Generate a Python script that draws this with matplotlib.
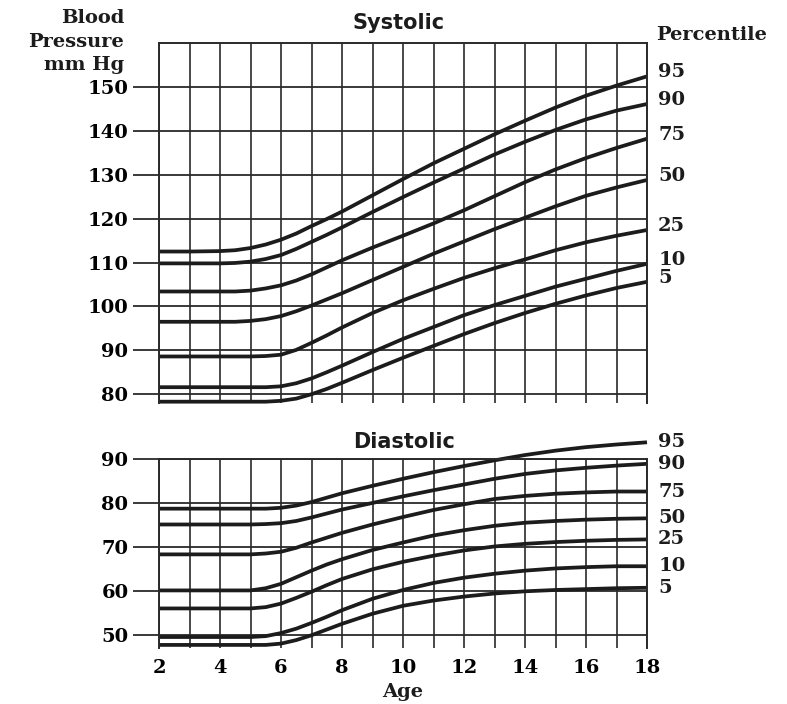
import matplotlib
matplotlib.use('Agg')
import matplotlib.pyplot as plt

# ---- data ----
ages = [2, 3, 4, 4.5, 5, 5.5, 6, 6.5, 7, 7.5, 8, 9, 10, 11, 12, 13, 14, 15, 16, 17, 18]
percentiles = ['95', '90', '75', '50', '25', '10', '5']

sys_95 = [112.5, 112.5, 112.6, 112.8, 113.3, 114.1, 115.2, 116.6, 118.3, 119.9, 121.6, 125.3, 129.0, 132.6, 135.9, 139.2, 142.3, 145.3, 148.0, 150.3, 152.4]
sys_90 = [109.8, 109.8, 109.8, 109.9, 110.2, 110.8, 111.7, 113.1, 114.7, 116.3, 118.0, 121.5, 124.9, 128.2, 131.4, 134.6, 137.5, 140.2, 142.6, 144.6, 146.1]
sys_75 = [103.4, 103.4, 103.4, 103.4, 103.6, 104.1, 104.8, 105.9, 107.3, 108.9, 110.5, 113.4, 116.1, 118.9, 121.9, 125.1, 128.3, 131.2, 133.8, 136.1, 138.2]
sys_50 = [96.5, 96.5, 96.5, 96.5, 96.7, 97.1, 97.8, 98.9, 100.2, 101.6, 103.0, 106.0, 109.0, 112.0, 114.8, 117.6, 120.2, 122.8, 125.2, 127.1, 128.8]
sys_25 = [88.6, 88.6, 88.6, 88.6, 88.6, 88.7, 89.0, 90.1, 91.7, 93.4, 95.2, 98.5, 101.4, 104.0, 106.5, 108.7, 110.7, 112.8, 114.6, 116.1, 117.4]
sys_10 = [81.6, 81.6, 81.6, 81.6, 81.6, 81.6, 81.8, 82.5, 83.6, 85.0, 86.5, 89.6, 92.6, 95.3, 98.0, 100.3, 102.4, 104.5, 106.3, 108.1, 109.7]
sys_5 = [78.3, 78.3, 78.3, 78.3, 78.3, 78.3, 78.5, 79.0, 80.0, 81.2, 82.6, 85.5, 88.3, 91.0, 93.7, 96.2, 98.5, 100.6, 102.5, 104.2, 105.6]

dia_95 = [78.7, 78.7, 78.7, 78.7, 78.7, 78.7, 78.9, 79.4, 80.2, 81.2, 82.2, 83.9, 85.5, 87.0, 88.4, 89.7, 90.9, 91.9, 92.7, 93.3, 93.8]
dia_90 = [75.1, 75.1, 75.1, 75.1, 75.1, 75.2, 75.4, 75.9, 76.7, 77.6, 78.5, 80.0, 81.5, 82.9, 84.2, 85.5, 86.6, 87.4, 88.0, 88.5, 88.9]
dia_75 = [68.3, 68.3, 68.3, 68.3, 68.3, 68.5, 68.9, 69.8, 71.0, 72.1, 73.2, 75.1, 76.8, 78.4, 79.7, 80.9, 81.6, 82.1, 82.4, 82.6, 82.6]
dia_50 = [60.1, 60.1, 60.1, 60.1, 60.1, 60.6, 61.6, 63.1, 64.6, 66.0, 67.2, 69.3, 71.0, 72.6, 73.8, 74.8, 75.5, 75.9, 76.2, 76.4, 76.5]
dia_25 = [56.0, 56.0, 56.0, 56.0, 56.0, 56.3, 57.1, 58.4, 59.8, 61.3, 62.7, 64.9, 66.6, 68.0, 69.2, 70.1, 70.7, 71.1, 71.4, 71.6, 71.7]
dia_10 = [49.5, 49.5, 49.5, 49.5, 49.5, 49.7, 50.4, 51.4, 52.7, 54.1, 55.6, 58.2, 60.2, 61.8, 63.0, 63.9, 64.6, 65.1, 65.4, 65.6, 65.6]
dia_5 = [47.7, 47.7, 47.7, 47.7, 47.7, 47.7, 48.0, 48.8, 49.9, 51.2, 52.5, 54.8, 56.6, 57.8, 58.7, 59.4, 59.9, 60.2, 60.4, 60.6, 60.7]

sys_ticks = [80, 90, 100, 110, 120, 130, 140, 150]
dia_ticks = [50, 60, 70, 80, 90]
age_ticks = [2, 4, 6, 8, 10, 12, 14, 16, 18]

systolic = [sys_95, sys_90, sys_75, sys_50, sys_25, sys_10, sys_5]
diastolic = [dia_95, dia_90, dia_75, dia_50, dia_25, dia_10, dia_5]

# ---- style ----
ink = '#1c1c1c'
grid_ink = '#2a2a2a'
serif = 'DejaVu Serif'
fs = 14
fw = 'bold'

W, H = 787, 704
fig = plt.figure(figsize=(W / 100, H / 100), dpi=100)
fig.patch.set_facecolor('white')


def px_axes(left, top, right, bottom):
    return fig.add_axes([left / W, 1 - bottom / H, (right - left) / W, (bottom - top) / H])


def setup(ax, ylim, yticks):
    ax.set_xlim(2, 18)
    ax.set_ylim(*ylim)
    ax.set_yticks(yticks)
    ax.set_xticks(range(2, 19), minor=True)
    ax.grid(True, which='both', axis='x', color=grid_ink, lw=1.2)
    ax.grid(True, which='major', axis='y', color=grid_ink, lw=1.3)
    ax.tick_params(axis='y', length=19, width=1.3, color=grid_ink, pad=3,
                   labelsize=fs, labelfontfamily=serif)
    ax.tick_params(axis='x', which='both', length=0)
    for t in ax.get_yticklabels():
        t.set_fontweight(fw)
    for s in ['left', 'right', 'top']:
        ax.spines[s].set_linewidth(1.4)
        ax.spines[s].set_color(grid_ink)
    ax.spines['bottom'].set_visible(False)
    ax.set_axisbelow(True)


def draw(ax, series, dy):
    for vals, lab in zip(series, percentiles):
        ax.plot(ages, vals, color=ink, lw=2.7, clip_on=False,
                solid_capstyle='butt', solid_joinstyle='round')
        ax.annotate(lab, (ages[-1], vals[-1]), xytext=(8, dy), textcoords='offset points',
                    ha='left', va='center', fontsize=fs, family=serif, fontweight=fw,
                    color=ink, annotation_clip=False)


# systolic panel
ax1 = px_axes(159, 43, 647, 403)
setup(ax1, (78, 160), sys_ticks)
ax1.set_xticks([])
draw(ax1, systolic, 3)

# diastolic panel
ax2 = px_axes(159, 459, 647, 648)
setup(ax2, (47, 90), dia_ticks)
ax2.set_xticks(age_ticks)
ax2.tick_params(axis='x', labelsize=fs, labelfontfamily=serif, pad=8)
for t in ax2.get_xticklabels():
    t.set_fontweight(fw)
draw(ax2, diastolic, 0)
ax2.set_xlabel('Age', fontsize=fs, family=serif, fontweight=fw, color=ink, labelpad=4)

# panel titles
fig.text(399 / W, 1 - 23 / H, 'Systolic', ha='center', va='center',
         fontsize=15, fontweight='bold', family='DejaVu Sans', color=ink)
fig.text(404 / W, 1 - 442 / H, 'Diastolic', ha='center', va='center',
         fontsize=15, fontweight='bold', family='DejaVu Sans', color=ink)

# axis titles
fig.text(124 / W, 1 - 9 / H, 'Blood\nPressure\nmm Hg', ha='right', va='top',
         fontsize=fs, family=serif, fontweight=fw, color=ink, linespacing=1.4)
fig.text(656 / W, 1 - 35 / H, 'Percentile', ha='left', va='center',
         fontsize=fs, family=serif, fontweight=fw, color=ink)

fig.savefig('out.png', dpi=100, facecolor='white')
